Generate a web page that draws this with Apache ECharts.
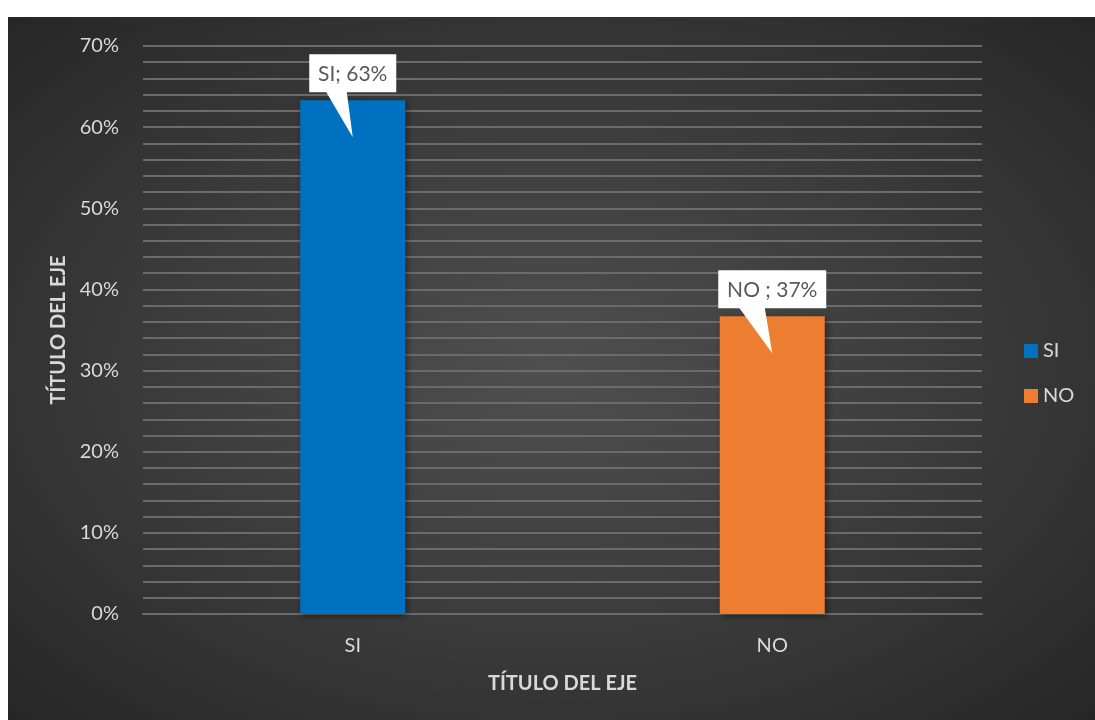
<!DOCTYPE html>
<html>
<head>
<meta charset="utf-8">
<script src="https://cdn.jsdelivr.net/npm/echarts@6/dist/echarts.min.js"></script>
<style>
  html, body { margin: 0; padding: 0; background: #ffffff; }
  #wrap { position: absolute; left: 0; top: 0; width: 1095px; height: 720px; background: #ffffff; }
  #chart { position: absolute; left: 8px; top: 17px; width: 1087px; height: 703px;
    background: radial-gradient(ellipse farthest-corner at 50% 50%, #4f4f4f 0%, #3a3a3a 55%, #262626 100%); }
</style>
</head>
<body>
<div id="wrap"><div id="chart"></div></div>
<script>
const categories = ['SI', 'NO'];
const seriesNames = ['SI', 'NO'];
const siValues = [0.633, '-'];
const noValues = ['-', 0.367];
const calloutValues = [0.633, 0.367];
const calloutLabels = ['SI; 63%', 'NO ; 37%'];
const yTicks = [0, 0.1, 0.2, 0.3, 0.4, 0.5, 0.6, 0.7];

const FONT = 'Lato';
const textColor = '#d9d9d9';
const gridColor = '#6b6b6b';

const measureCtx = document.createElement('canvas').getContext('2d');
function textWidth(t, font) { measureCtx.font = font; return measureCtx.measureText(t).width; }

const chart = echarts.init(document.getElementById('chart'), null, { renderer: 'canvas' });

const option = {
  backgroundColor: 'transparent',
  animation: false,
  textStyle: { fontFamily: FONT },
  grid: { left: 135, right: 113, top: 29, bottom: 106, containLabel: false },
  legend: {
    data: seriesNames,
    orient: 'vertical',
    left: 1016,
    top: 324,
    padding: 0,
    itemWidth: 14,
    itemHeight: 14,
    itemGap: 25,
    icon: 'rect',
    textStyle: { color: textColor, fontSize: 20, fontFamily: FONT }
  },
  xAxis: {
    type: 'category',
    data: categories,
    name: 'TÍTULO DEL EJE',
    nameLocation: 'middle',
    nameGap: 60,
    nameTextStyle: { color: textColor, fontSize: 20, fontWeight: 'bold', fontFamily: FONT },
    axisLine: { show: true, lineStyle: { color: gridColor, width: 2 } },
    axisTick: { show: false },
    axisLabel: { color: textColor, fontSize: 20, fontFamily: FONT, margin: 22 }
  },
  yAxis: {
    type: 'value',
    min: 0,
    max: 0.7,
    interval: 0.1,
    name: 'TÍTULO DEL EJE',
    nameLocation: 'middle',
    nameGap: 73,
    nameTextStyle: { color: textColor, fontSize: 20, fontWeight: 'bold', fontFamily: FONT },
    axisLine: { show: false },
    axisTick: { show: false },
    axisLabel: {
      color: textColor, fontSize: 20, fontFamily: FONT, margin: 24,
      formatter: v => {
        const t = yTicks.find(x => Math.abs(x - v) < 1e-9);
        return Math.round((t !== undefined ? t : v) * 100) + '%';
      }
    },
    splitLine: { show: true, lineStyle: { color: gridColor, width: 2 } },
    minorTick: { show: false, splitNumber: 5 },
    minorSplitLine: { show: true, lineStyle: { color: gridColor, width: 2 } }
  },
  series: [
    {
      name: seriesNames[0], type: 'bar', data: siValues, barWidth: 105, barGap: '-100%',
      itemStyle: { color: '#0070c0', shadowBlur: 6, shadowColor: 'rgba(0,0,0,0.45)', shadowOffsetX: 2, shadowOffsetY: 2 }
    },
    {
      name: seriesNames[1], type: 'bar', data: noValues, barWidth: 105, barGap: '-100%',
      itemStyle: { color: '#ed7d31', shadowBlur: 6, shadowColor: 'rgba(0,0,0,0.45)', shadowOffsetX: 2, shadowOffsetY: 2 }
    },
    {
      name: 'callouts', type: 'custom', z: 10,
      data: calloutValues.map((v, i) => [i, v]),
      renderItem: function (params, api) {
        const p = api.coord([api.value(0), api.value(1)]);
        const text = calloutLabels[params.dataIndex];
        const font = '21px ' + FONT;
        const w = Math.round(textWidth(text, font)) + 18;
        const h = 38;
        const boxBottom = p[1] - 8;
        const left = p[0] - w / 2;
        const top = boxBottom - h;
        return {
          type: 'group',
          children: [
            { type: 'polygon', shape: { points: [[left + 0.19 * w, boxBottom - 1], [left + 0.43 * w, boxBottom - 1], [p[0], p[1] + 37]] },
              style: { fill: '#ffffff' } },
            { type: 'rect', shape: { x: left, y: top, width: w, height: h }, style: { fill: '#ffffff' } },
            { type: 'text', style: { x: p[0], y: top + h / 2 + 1, text: text, align: 'center', verticalAlign: 'middle',
              font: font, fill: '#595959' } }
          ]
        };
      }
    }
  ]
};
chart.setOption(option);
</script>
</body>
</html>
